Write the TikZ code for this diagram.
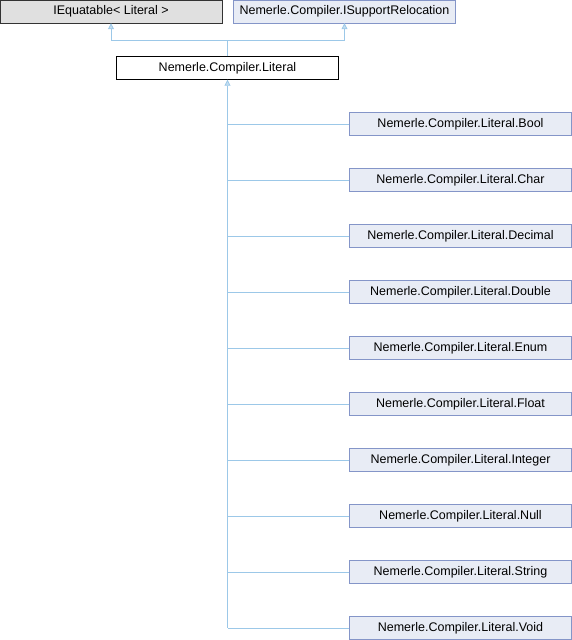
\documentclass[tikz,border=0pt]{standalone}
\usepackage{fontspec}
\setmainfont{Liberation Sans}
\usetikzlibrary{arrows.meta}
\definecolor{edgeblue}{HTML}{9CC8E8}
\definecolor{boxfill}{HTML}{E8ECF5}
\definecolor{boxline}{HTML}{8495C8}
\definecolor{grayfill}{HTML}{E0E0E0}
\tikzset{
  classbox/.style={draw=boxline, fill=boxfill, minimum width=222pt, minimum height=23pt,
    inner sep=0pt, font=\fontsize{12.5}{14}\selectfont},
  extbox/.style={classbox, draw=black!80, fill=grayfill},
  litbox/.style={classbox, draw=black, fill=white},
  inherit/.style={draw=edgeblue, line width=0.8pt},
  tip/.style={-{Triangle[open, width=6pt, length=6pt, fill=edgeblue!60]}}
}
\begin{document}
\begin{tikzpicture}[x=1pt, y=-1pt]
\useasboundingbox (0,0) rectangle (572,640);
% Base classes
\node[extbox] (ieq) at (111,11.5) {IEquatable< Literal >};
\node[classbox] (isr) at (344.5,11.5) {Nemerle.Compiler.ISupportRelocation};
% Literal
\node[litbox] (lit) at (227.5,68) {Nemerle.Compiler.Literal};
\coordinate (join) at (227.5,40);
\draw[inherit] (lit.north) -- (join);
\draw[inherit, tip] (join) -| (ieq.south);
\draw[inherit, tip] (join) -| (isr.south);
% Derived classes
\coordinate (trunk) at (227.5,628);
\draw[inherit, tip] (trunk) -- (lit.south);
\foreach \name [count=\i] in {Bool,Char,Decimal,Double,Enum,Float,Integer,Null,String,Void} {
  \node[classbox] (c\i) at (460.5,68+56*\i) {Nemerle.Compiler.Literal.\name};
  \draw[inherit] (c\i.west) -- (227.5,68+56*\i);
}
\end{tikzpicture}
\end{document}
